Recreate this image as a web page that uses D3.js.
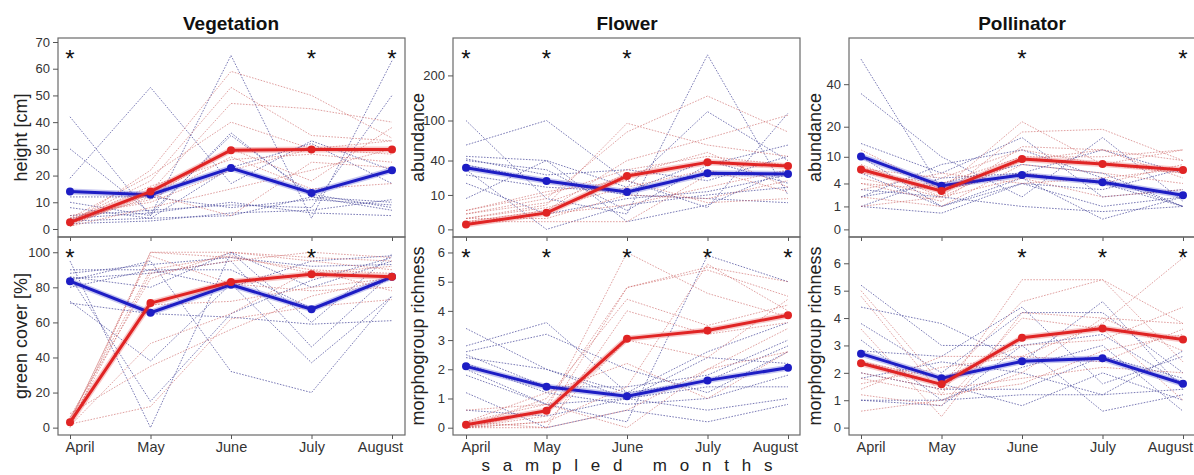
<!DOCTYPE html>
<html>
<head>
<meta charset="utf-8">
<script src="https://cdn.jsdelivr.net/npm/d3@7"></script>
<style>
  html, body { margin: 0; padding: 0; background: #fff; }
  svg { display: block; font-family: "Liberation Sans", Arial, Helvetica, sans-serif; }
</style>
</head>
<body>
<svg id="chart" width="1194" height="475"></svg>
<script>
// Sampling months (x categories)
const months = ["April", "May", "June", "July", "August"];

// ---- Vegetation: height [cm] ----
const vegHeightBlueMean = [14, 12.8, 22.8, 13.5, 22];
const vegHeightRedMean  = [2.5, 14, 29.5, 29.8, 29.8];
const vegHeightBlue = [
  [42, 5, 36, 12, 10], [30, 6, 35, 13, 8], [19, 53, 17, 33, 22], [10, 5, 65, 4, 63],
  [5, 7, 9, 8, 50], [3, 4, 5, 12, 7], [12, 12, 8, 11, 9], [4, 6, 10, 6, 5],
  [8, 4, 23, 32, 17], [2, 3, 6, 7, 11]
];
const vegHeightRed = [
  [2, 22, 59, 50, 34], [3, 18, 53, 35, 33], [1, 14, 47, 45, 40], [4, 20, 40, 30, 33],
  [2, 12, 30, 18, 38], [3, 16, 26, 28, 25], [5, 10, 22, 30, 28], [1, 8, 15, 22, 30],
  [2, 13, 5, 25, 23], [4, 11, 27, 15, 17]
];
const vegHeightTicks = [0, 10, 20, 30, 40, 50, 60, 70];
const vegHeightStars = ["April", "July", "August"];

// ---- Vegetation: green cover [%] ----
const vegCoverBlueMean = [83.5, 65.5, 81.5, 67.5, 86];
const vegCoverRedMean  = [3, 71, 83, 87.5, 86];
const vegCoverBlue = [
  [95, 0, 100, 60, 99], [86, 15, 65, 84, 97], [72, 38, 82, 37, 75], [84, 95, 32, 20, 75],
  [88, 93, 97, 92, 93], [71, 65, 63, 59, 61], [85, 88, 95, 46, 88], [90, 90, 80, 95, 98],
  [86, 80, 100, 80, 95], [80, 90, 90, 68, 85]
];
const vegCoverRed = [
  [3, 100, 100, 95, 90], [5, 90, 98, 88, 92], [2, 88, 95, 100, 97], [4, 98, 82, 78, 80],
  [1, 48, 65, 90, 78], [8, 35, 56, 75, 85], [2, 12, 62, 69, 73], [6, 85, 100, 97, 95],
  [3, 70, 72, 80, 85], [0, 100, 97, 90, 88]
];
const vegCoverTicks = [0, 20, 40, 60, 80, 100];
const vegCoverStars = ["April", "July"];

// ---- Flower: abundance ----
const flowerAbundBlueMean = [32, 19.7, 11.8, 26.5, 25.8];
const flowerAbundRedMean  = [0.2, 2.3, 24, 37.9, 33.9];
const flowerAbundBlue = [
  [100, 8, 2, 257, 10], [60, 100, 20, 4, 114], [45, 40, 15, 117, 40], [40, 30, 3, 35, 60],
  [18, 2, 8, 12, 25], [8, 40, 0.5, 5, 30], [35, 20, 10, 8, 6], [30, 0, 5, 10, 15],
  [25, 15, 12, 40, 18], [42, 25, 30, 20, 45]
];
const flowerAbundRed = [
  [1, 5, 95, 60, 45], [2, 8, 80, 150, 80], [0.5, 3, 40, 70, 110], [3, 10, 30, 45, 35],
  [1, 1, 10, 8, 20], [2, 6, 25, 50, 15], [0.2, 2, 5, 15, 30], [1, 4, 15, 30, 12],
  [3, 12, 20, 6, 8], [0.5, 0.5, 0.5, 25, 25]
];
const flowerAbundTicks = [0, 10, 40, 100, 200];
const flowerAbundStars = ["April", "May", "June"];

// ---- Flower: morphogroup richness ----
const flowerRichBlueMean = [2.1, 1.4, 1.08, 1.62, 2.05];
const flowerRichRedMean  = [0.1, 0.58, 3.05, 3.33, 3.85];
const flowerRichBlue = [
  [3.4, 2.0, 1.0, 0.6, 1.0], [2.8, 3.6, 1.2, 2.6, 3.6], [2.6, 3.2, 2.0, 1.2, 2.6],
  [2.5, 1.4, 1.4, 1.8, 3.0], [2.0, 0.8, 0.2, 5.9, 5.0], [1.8, 0.8, 1.0, 1.4, 1.4],
  [1.2, 0.0, 0.6, 0.2, 0.8], [0.6, 0.4, 1.0, 2.4, 2.2], [2.2, 1.2, 0.8, 1.0, 1.8],
  [2.4, 2.0, 1.2, 1.6, 2.8]
];
const flowerRichRed = [
  [0, 0.6, 6.0, 4.6, 3.8], [0.2, 0.8, 4.8, 5.5, 5.0], [0, 0.4, 4.8, 5.4, 4.5],
  [0, 1.0, 4.4, 3.5, 4.2], [0.2, 0, 4.0, 3.2, 3.6], [0, 0.2, 3.0, 2.4, 4.4],
  [0.2, 1.2, 2.2, 1.0, 2.6], [0, 0, 0.6, 2.0, 2.6], [0.6, 0.8, 0, 2.0, 3.4],
  [0, 0.2, 1.4, 5.6, 4.0]
];
const flowerRichTicks = [0, 1, 2, 3, 4, 5, 6];
const flowerRichStars = ["April", "May", "June", "July", "August"];

// ---- Pollinator: abundance ----
const pollAbundBlueMean = [10.1, 3.6, 5.6, 4.2, 2.2];
const pollAbundRedMean  = [6.8, 2.8, 9.4, 8.1, 6.7];
const pollAbundBlue = [
  [55, 3, 6, 4, 1], [35, 10, 2, 16, 1.5], [14, 6, 16, 2, 3], [10, 1, 5, 0.2, 2],
  [2, 4, 8, 6, 1], [1, 0.5, 4, 1, 2], [1, 5, 6, 12, 6], [3, 2, 1, 0.6, 1],
  [6, 1, 4, 3, 7], [2, 8, 12, 5, 1]
];
const pollAbundRed = [
  [12, 3, 22, 8, 12], [5, 2, 18, 19, 9], [4, 1.5, 13, 12, 5], [6, 4, 10, 10, 12],
  [4, 3, 6, 4, 8], [2, 1, 8, 6, 4], [7, 5, 12, 8, 6], [1, 2, 5, 2, 3],
  [8, 2, 9, 12, 9], [3, 6, 4, 5, 7]
];
const pollAbundTicks = [0, 1, 4, 10, 20, 40];
const pollAbundStars = ["June", "August"];

// ---- Pollinator: morphogroup richness ----
const pollRichBlueMean = [2.7, 1.8, 2.42, 2.53, 1.6];
const pollRichRedMean  = [2.35, 1.58, 3.28, 3.62, 3.22];
const pollRichBlue = [
  [5.2, 3.0, 3.0, 0.6, 1.2], [4.4, 3.8, 2.4, 4.6, 1.4], [3.8, 2.0, 4.2, 4.2, 2.0],
  [3.2, 1.0, 2.2, 3.0, 0.6], [2.0, 1.4, 1.4, 2.6, 1.8], [1.0, 0.8, 3.0, 3.4, 1.6],
  [2.4, 1.6, 0.8, 2.0, 1.0], [1.8, 2.4, 2.0, 1.2, 2.8], [1.0, 1.0, 1.2, 1.2, 1.4],
  [2.8, 2.6, 4.4, 1.6, 2.6]
];
const pollRichRed = [
  [4.8, 1.2, 5.4, 5.4, 3.8], [5.0, 1.6, 4.6, 5.4, 2.4], [3.6, 0.4, 4.2, 4.0, 3.8],
  [2.4, 1.8, 3.0, 3.2, 4.4], [1.4, 2.6, 2.6, 3.8, 6.2], [0.6, 1.0, 2.0, 4.0, 2.8],
  [2.0, 1.4, 1.8, 2.2, 2.0], [1.6, 2.2, 2.6, 2.4, 3.6], [1.2, 0.8, 4.0, 3.6, 1.0],
  [1.8, 1.2, 1.6, 2.8, 3.4]
];
const pollRichTicks = [0, 1, 2, 3, 4, 5, 6];
const pollRichStars = ["June", "July", "August"];

// Column titles
const columnTitles = ["Vegetation", "Flower", "Pollinator"];

const svg = d3.select("#chart");

const BLUE_THIN = "#4f4f9e";
const RED_THIN = "#cc6262";
const BLUE = "#1d1dc4";
const RED = "#e02424";

// Panel geometry per column / row
const cols = [
  { left: 58,  right: 405,  first: 70,  last: 392,  labelX: 21 },
  { left: 453, right: 800,  first: 466, last: 788,  labelX: 418 },
  { left: 849, right: 1195, first: 861, last: 1183, labelX: 815 }
];
const rows = [
  { top: 38,  bottom: 237 },
  { top: 237, bottom: 435 }
];

const panels = [
  { c: 0, r: 0, label: "height [cm]", y: d3.scaleLinear().domain([-3, 71.5]),
    ticks: vegHeightTicks, blue: vegHeightBlue, red: vegHeightRed,
    blueMean: vegHeightBlueMean, redMean: vegHeightRedMean, stars: vegHeightStars },
  { c: 0, r: 1, label: "green cover [%]", y: d3.scaleLinear().domain([-4.2, 108.7]),
    ticks: vegCoverTicks, blue: vegCoverBlue, red: vegCoverRed,
    blueMean: vegCoverBlueMean, redMean: vegCoverRedMean, stars: vegCoverStars },
  { c: 1, r: 0, label: "abundance", y: d3.scaleSqrt().domain([-0.49, 309]),
    ticks: flowerAbundTicks, blue: flowerAbundBlue, red: flowerAbundRed,
    blueMean: flowerAbundBlueMean, redMean: flowerAbundRedMean, stars: flowerAbundStars },
  { c: 1, r: 1, label: "morphogroup richness", y: d3.scaleLinear().domain([-0.25, 6.53]),
    ticks: flowerRichTicks, blue: flowerRichBlue, red: flowerRichRed,
    blueMean: flowerRichBlueMean, redMean: flowerRichRedMean, stars: flowerRichStars },
  { c: 2, r: 0, label: "abundance", y: d3.scaleSqrt().domain([-0.11, 69.5]),
    ticks: pollAbundTicks, blue: pollAbundBlue, red: pollAbundRed,
    blueMean: pollAbundBlueMean, redMean: pollAbundRedMean, stars: pollAbundStars },
  { c: 2, r: 1, label: "morphogroup richness", y: d3.scaleLinear().domain([-0.27, 6.96]),
    ticks: pollRichTicks, blue: pollRichBlue, red: pollRichRed,
    blueMean: pollRichBlueMean, redMean: pollRichRedMean, stars: pollRichStars }
];

panels.forEach(p => {
  const col = cols[p.c], row = rows[p.r];
  const x = d3.scalePoint().domain(months).range([col.first, col.last]);
  const y = p.y.range([row.bottom, row.top]);
  const g = svg.append("g");

  const line = d3.line().x((d, i) => x(months[i])).y(d => y(d));

  // individual sites, dotted
  const thin = g.append("g").attr("fill", "none")
    .attr("stroke-width", 1).attr("stroke-dasharray", "1.6,1.4");
  thin.selectAll(".b").data(p.blue).join("path")
    .attr("d", line).attr("stroke", BLUE_THIN).attr("stroke-opacity", 0.75);
  thin.selectAll(".r").data(p.red).join("path")
    .attr("d", line).attr("stroke", RED_THIN).attr("stroke-opacity", 0.6);

  // mean lines with points
  [[p.blueMean, BLUE], [p.redMean, RED]].forEach(([vals, color]) => {
    g.append("path").datum(vals).attr("d", line).attr("fill", "none")
      .attr("stroke", color).attr("stroke-width", 6).attr("stroke-opacity", 0.25)
      .attr("stroke-linejoin", "round");
    g.append("path").datum(vals).attr("d", line).attr("fill", "none")
      .attr("stroke", color).attr("stroke-width", 3).attr("stroke-linejoin", "round");
    g.selectAll(null).data(vals).join("circle")
      .attr("cx", (d, i) => x(months[i])).attr("cy", d => y(d))
      .attr("r", 4).attr("fill", color);
  });

  // frame
  g.append("rect").attr("x", col.left).attr("y", row.top)
    .attr("width", col.right - col.left).attr("height", row.bottom - row.top)
    .attr("fill", "none").attr("stroke", "#6a6a6a").attr("stroke-width", 1.2);

  // y axis
  const yAxis = d3.axisLeft(y).tickValues(p.ticks).tickSize(5).tickPadding(3)
    .tickFormat(d3.format("d"));
  const ya = g.append("g").attr("transform", `translate(${col.left},0)`).call(yAxis);
  ya.select(".domain").remove();
  ya.selectAll("line").attr("stroke", "#555");
  ya.selectAll("text").attr("fill", "#333").style("font-size", "13px");

  // x axis ticks (labels only on the bottom row)
  const xAxis = d3.axisBottom(x).tickSize(4).tickPadding(3);
  if (p.r === 0) xAxis.tickFormat("");
  const xa = g.append("g").attr("transform", `translate(0,${row.bottom})`).call(xAxis);
  xa.select(".domain").remove();
  xa.selectAll("line").attr("stroke", "#555");
  const xt = xa.selectAll("text").attr("fill", "#333").style("font-size", "14.5px");
  // keep the outer month labels inside the frame
  xt.filter(d => d === months[0]).attr("text-anchor", "start").attr("x", -5);
  xt.filter(d => d === months[months.length - 1]).attr("text-anchor", "end")
    .attr("x", col.right - 2.5 - x(months[months.length - 1]));

  // y label
  g.append("text")
    .attr("transform", `translate(${col.labelX},${(row.top + row.bottom) / 2}) rotate(-90)`)
    .attr("text-anchor", "middle").attr("dominant-baseline", "central")
    .attr("fill", "#222").style("font-size", "18px").text(p.label);

  // significance markers
  g.selectAll(".star").data(p.stars).join("text")
    .attr("x", d => x(d)).attr("y", row.top + 29)
    .attr("text-anchor", "middle").attr("fill", "#111")
    .style("font-size", "24px").text("*");
});

// column titles
columnTitles.forEach((t, i) => {
  svg.append("text").attr("x", (cols[i].first + cols[i].last) / 2).attr("y", 30)
    .attr("text-anchor", "middle").attr("fill", "#111")
    .style("font-size", "19px").style("font-weight", "bold").text(t);
});

// shared x label
const spacing = 12.8;
svg.append("text").attr("x", 627 + spacing / 2).attr("y", 471)
  .attr("text-anchor", "middle").attr("fill", "#222")
  .style("font-size", "17px").style("letter-spacing", spacing + "px")
  .text("sampled  months");
</script>
</body>
</html>
